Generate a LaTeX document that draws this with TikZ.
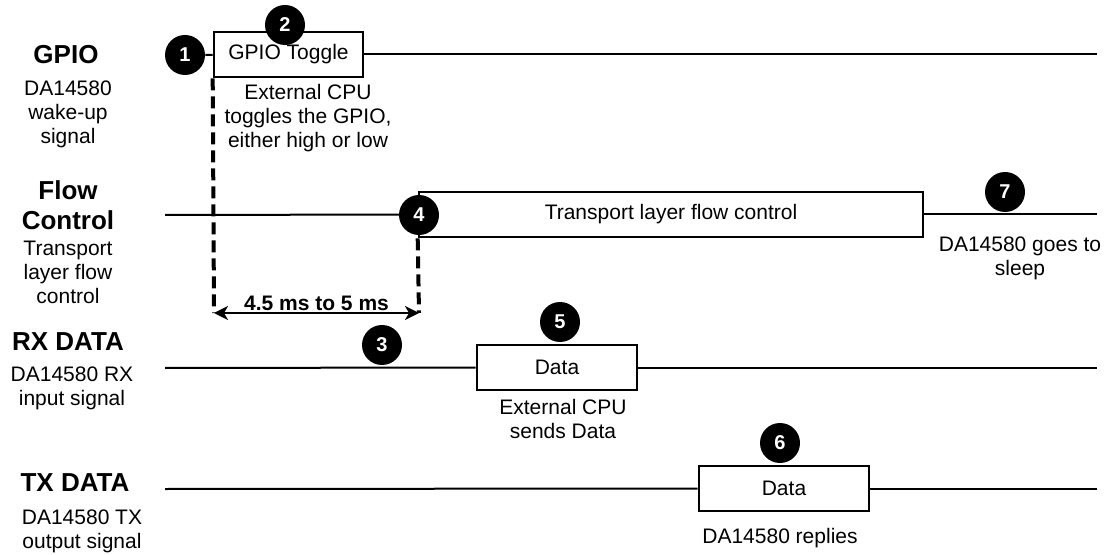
\documentclass[tikz,border=0pt]{standalone}
\usepackage{fontspec}
\setmainfont{Liberation Sans}
\usepackage{tikz}
\usetikzlibrary{arrows.meta}

\begin{document}
\begin{tikzpicture}[x=0.5pt, y=-0.5pt,
    sig/.style={line width=1pt},
    sigbox/.style={draw, line width=1.3pt, fill=white, minimum height=22.5pt, inner sep=0pt, font=\fontsize{10.5}{12}\selectfont},
    numdot/.style={circle, fill=black, text=white, minimum size=20pt, inner sep=0pt, font=\fontsize{10}{10}\selectfont\bfseries},
    sigtitle/.style={align=center, font=\fontsize{13}{15}\selectfont\bfseries},
    signote/.style={align=center, font=\fontsize{10.5}{12}\selectfont},
    waitline/.style={line width=2pt, dash pattern=on 6pt off 3pt}]
    \useasboundingbox (0,0) rectangle (1112,555);

    % signal names
    \node[sigtitle] (gpiot) at (66,55) {GPIO};
    \node[signote] (gpiod) at (68,114) {DA14580\\wake-up\\signal};
    \node[sigtitle] (flowt) at (68,205) {Flow\\Control};
    \node[signote] (flowd) at (68,272) {Transport\\layer flow\\control};
    \node[sigtitle] (rxt) at (68,342) {RX DATA};
    \node[signote] (rxd) at (72,388) {DA14580 RX\\input signal};
    \node[sigtitle] (txt) at (75,483) {TX DATA};
    \node[signote] (txd) at (82,531) {DA14580 TX\\output signal};

    % GPIO
    \node[sigbox, minimum width=74.5pt] (tog) at (288.5,54.5) {GPIO Toggle};
    \coordinate (gend) at (1097,54.5);
    \node[numdot] (n1) at (185,55) {1};
    \node[numdot] (n2) at (285,25) {2};
    \draw[sig] (n1) -- (tog);
    \draw[sig] (tog.east) -- (gend);
    \node[signote] (tognote) at (308,118) {External CPU\\toggles the GPIO,\\either high or low};

    % Flow control
    \coordinate (fstart) at (165,215);
    \node[sigbox, minimum width=252pt] (fc) at (671,214.5) {Transport layer flow control};
    \coordinate (fend) at (1097,214.5);
    \draw[sig] (fstart) -- (fc.west);
    \draw[sig] (fc.east) -- (fend);
    \node[numdot] (n4) at (419,215) {4};
    \node[numdot] (n7) at (1005,192) {7};
    \node[signote] (sleep) at (1020,258) {DA14580 goes to\\sleep};

    % wake-up delay
    \coordinate (d1) at (214,313);
    \coordinate (d2) at (419,313);
    \draw[waitline] (tog.south west) -- (d1);
    \draw[waitline] (fc.south west) -- (d2);
    \draw[line width=1pt, {Stealth[length=7pt, width=7pt, inset=2pt]}-{Stealth[length=7pt, width=7pt, inset=2pt]}] (d1) -- node[above, inner sep=0.5pt, font=\fontsize{10.5}{12}\selectfont\bfseries] (wait) {4.5 ms to 5 ms} (d2);

    % RX data
    \coordinate (rstart) at (165,368);
    \node[sigbox, minimum width=80pt] (rx) at (557,367.5) {Data};
    \coordinate (rend) at (1097,367.5);
    \draw[sig] (rstart) -- (rx.west);
    \draw[sig] (rx.east) -- (rend);
    \node[numdot] (n3) at (382,345) {3};
    \node[numdot] (n5) at (560,322) {5};
    \node[signote] (rxnote) at (563,419) {External CPU\\sends Data};

    % TX data
    \coordinate (tstart) at (165,489);
    \node[sigbox, minimum width=85pt] (tx) at (784,488.5) {Data};
    \coordinate (tend) at (1097,488.5);
    \draw[sig] (tstart) -- (tx.west);
    \draw[sig] (tx.east) -- (tend);
    \node[numdot] (n6) at (780,443) {6};
    \node[signote] (txnote) at (780,538) {DA14580 replies};
\end{tikzpicture}
\end{document}
